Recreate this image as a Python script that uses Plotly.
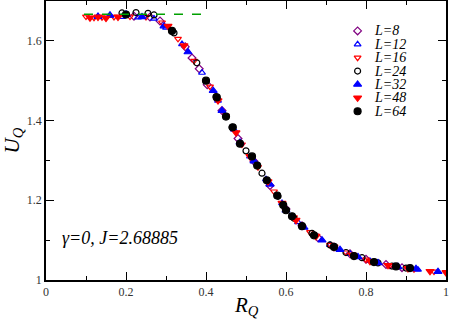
import plotly.graph_objects as go

# scaling collapse U_Q vs R_Q
r_8 = [0.22, 0.26, 0.285, 0.348, 0.365, 0.383, 0.403, 0.44, 0.48, 0.52, 0.56, 0.60, 0.64, 0.68, 0.72, 0.76, 0.80, 0.85, 0.89]
u_8 = [1.662, 1.660, 1.650, 1.585, 1.557, 1.53, 1.49, 1.425, 1.355, 1.298, 1.237, 1.178, 1.136, 1.106, 1.083, 1.066, 1.052, 1.039, 1.031]

r_12 = [0.16, 0.19, 0.23, 0.27, 0.30, 0.34, 0.39, 0.43, 0.47, 0.51, 0.55, 0.59, 0.63, 0.67, 0.71, 0.76, 0.81, 0.87, 0.93]
u_12 = [1.663, 1.660, 1.659, 1.656, 1.633, 1.592, 1.52, 1.45, 1.377, 1.31, 1.253, 1.193, 1.145, 1.113, 1.088, 1.066, 1.048, 1.034, 1.026]

r_16 = [0.10, 0.12, 0.14, 0.17, 0.21, 0.25, 0.29, 0.33, 0.37, 0.41, 0.45, 0.49, 0.53, 0.57, 0.62, 0.66, 0.71, 0.75, 0.80, 0.86, 0.92, 0.97]
u_16 = [1.661, 1.658, 1.659, 1.660, 1.661, 1.660, 1.646, 1.605, 1.55, 1.485, 1.412, 1.34, 1.283, 1.222, 1.157, 1.12, 1.088, 1.069, 1.051, 1.036, 1.027, 1.021]

r_24 = [0.19, 0.225, 0.255, 0.27, 0.32, 0.377, 0.425, 0.465, 0.50, 0.54, 0.58, 0.62, 0.665, 0.71, 0.75, 0.79, 0.83, 0.865, 0.90]
u_24 = [1.670, 1.671, 1.669, 1.665, 1.62, 1.545, 1.46, 1.383, 1.324, 1.268, 1.21, 1.155, 1.117, 1.088, 1.069, 1.056, 1.043, 1.035, 1.03]

r_32 = [0.13, 0.16, 0.20, 0.24, 0.295, 0.355, 0.418, 0.44, 0.485, 0.52, 0.56, 0.60, 0.645, 0.69, 0.735, 0.78, 0.83, 0.88, 0.925, 0.98]
u_32 = [1.661, 1.664, 1.667, 1.660, 1.637, 1.572, 1.475, 1.425, 1.345, 1.298, 1.24, 1.175, 1.132, 1.10, 1.076, 1.058, 1.043, 1.033, 1.028, 1.021]

r_48 = [0.11, 0.13, 0.15, 0.18, 0.305, 0.345, 0.43, 0.475, 0.51, 0.555, 0.59, 0.625, 0.675, 0.72, 0.765, 0.81, 0.855, 0.905, 0.96, 1.0]
u_48 = [1.658, 1.660, 1.657, 1.660, 1.637, 1.588, 1.45, 1.37, 1.31, 1.247, 1.193, 1.15, 1.11, 1.083, 1.063, 1.047, 1.037, 1.029, 1.022, 1.019]

r_64 = [0.20, 0.315, 0.40, 0.427, 0.45, 0.467, 0.485, 0.515, 0.528, 0.552, 0.578, 0.593, 0.60, 0.615, 0.64, 0.67, 0.72, 0.77, 0.82, 0.875, 0.91]
u_64 = [1.666, 1.625, 1.50, 1.458, 1.41, 1.383, 1.342, 1.31, 1.287, 1.25, 1.212, 1.188, 1.175, 1.16, 1.135, 1.112, 1.083, 1.06, 1.045, 1.034, 1.03]

# dashed reference line U = 5/3
line_r = [0.095, 0.4]
line_u = [5 / 3, 5 / 3]

series = [
    ("L=8", r_8, u_8, "diamond-open", "#800080", 6),
    ("L=12", r_12, u_12, "triangle-up-open", "#0000ff", 6),
    ("L=16", r_16, u_16, "triangle-down-open", "#ff0000", 6),
    ("L=24", r_24, u_24, "circle-open", "#000000", 6),
    ("L=32", r_32, u_32, "triangle-up", "#0000ff", 7),
    ("L=48", r_48, u_48, "triangle-down", "#ff0000", 7),
    ("L=64", r_64, u_64, "circle", "#000000", 7),
]

serif = "Liberation Serif, Times New Roman, serif"

fig = go.Figure()

for name, r, u, sym, col, sz in series:
    fig.add_trace(go.Scatter(
        x=r, y=u, mode="markers", name=name, showlegend=False,
        marker=dict(symbol=sym, color=col, size=sz, line=dict(color=col, width=1.2))))

# dashed line drawn on top of the points
fig.add_trace(go.Scatter(x=line_r, y=line_u, mode="lines", showlegend=False,
                         line=dict(color="#00a000", width=1.5, dash="dash")))

# hand-made legend (plotly's own rows are too tall), placed in data units
leg_x, leg_top, leg_step = 0.779, 1.625, 0.0336
for i, (name, r, u, sym, col, sz) in enumerate(series):
    yy = leg_top - i * leg_step
    fig.add_trace(go.Scatter(x=[leg_x], y=[yy], mode="markers", showlegend=False,
                             hoverinfo="skip",
                             marker=dict(symbol=sym, color=col, size=sz, line=dict(color=col, width=1.2))))
    fig.add_annotation(x=leg_x + 0.036, y=yy, xref="x", yref="y", xanchor="left", yanchor="middle",
                       text="<i>" + name + "</i>", showarrow=False,
                       font=dict(family=serif, size=14, color="black"))

axis_style = dict(showline=True, linecolor="black", linewidth=1.5, mirror="ticks",
                  ticks="inside", ticklen=8, tickwidth=1, tickcolor="black",
                  showgrid=False, zeroline=False, automargin=False,
                  tickfont=dict(family=serif, size=12, color="#333333"))

fig.update_xaxes(range=[0, 1], tick0=0, dtick=0.2, tickformat="~g",
                 minor=dict(ticks="inside", ticklen=4, dtick=0.1, tickcolor="black"),
                 **axis_style)
fig.update_yaxes(range=[1, 1.7], tick0=1, dtick=0.2, tickformat="~g",
                 minor=dict(ticks="inside", ticklen=4, dtick=0.1, tickcolor="black"),
                 **axis_style)

# axis titles
fig.add_annotation(x=0.5, y=-0.04, xref="paper", yref="paper", xanchor="center", yanchor="top",
                   text="<i>R<sub>Q</sub></i>", showarrow=False,
                   font=dict(family=serif, size=21, color="black"))
fig.add_annotation(x=-0.085, y=0.5, xref="paper", yref="paper", xanchor="center", yanchor="middle",
                   text="<i>U<sub>Q</sub></i>", showarrow=False, textangle=-90,
                   font=dict(family=serif, size=21, color="black"))

fig.add_annotation(x=0.035, y=1.105, xref="x", yref="y", xanchor="left", yanchor="middle",
                   text="<i>γ=0, J=2.68885</i>", showarrow=False,
                   font=dict(family=serif, size=18, color="black"))

fig.update_layout(
    width=449, height=320,
    margin=dict(l=46, r=3, t=1, b=40),
    plot_bgcolor="white", paper_bgcolor="white",
    showlegend=False,
)

# drop the default 8px page margin so the figure sits at the window corner
fig.write_html("out.html", config={"displayModeBar": False},
               post_script="document.body.style.margin='0px';")
